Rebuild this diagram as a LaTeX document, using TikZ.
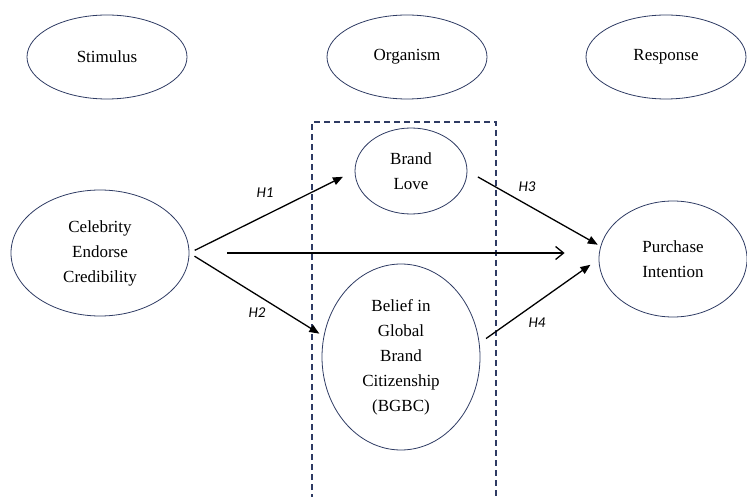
\documentclass[tikz,border=0pt]{standalone}
\usepackage{fontspec}
\setmainfont{Liberation Serif}
\newfontfamily\hypfont{Carlito}
\usetikzlibrary{shapes.geometric, arrows.meta}
\definecolor{navy}{HTML}{2E3B63}

\begin{document}
\begin{tikzpicture}[
    x=1pt, y=-1pt,
    construct/.style={draw=navy, line width=0.8pt, ellipse, inner sep=0pt, align=center,
        font=\fontsize{17}{25}\selectfont},
    path/.style={line width=1.3pt, -{Triangle[length=10pt, width=8pt]}},
    direct/.style={line width=1.3pt, -{Straight Barb[length=8pt, width=13pt]}},
    hyp/.style={font=\hypfont\itshape\fontsize{15}{17}\selectfont}
]
\useasboundingbox (0,0) rectangle (747,497);

% S-O-R headings
\node[construct, minimum width=160pt, minimum height=84pt] (stim) at (107,57) {Stimulus};
\node[construct, minimum width=160pt, minimum height=84pt] (org) at (407,57) {Organism};
\node[construct, minimum width=160pt, minimum height=84pt] (resp) at (666,57) {Response};

% Organism frame (runs past the bottom edge)
\draw[navy, line width=1.1pt, dash pattern=on 6pt off 4pt] (312,510) |- (496,122) -- (496,510);

% Constructs
\node[construct, minimum width=178pt, minimum height=126pt] (ced) at (100,253) {Celebrity\\Endorse\\Credibility};
\node[construct, minimum width=112pt, minimum height=86pt] (love) at (411,171) {Brand\\Love};
\node[construct, minimum width=158pt, minimum height=186pt] (bgbc) at (401,357) {Belief in\\Global\\Brand\\Citizenship\\(BGBC)};
\node[construct, minimum width=148pt, minimum height=116pt] (pi) at (673,259) {Purchase\\Intention};

% Hypothesised paths
\draw[path, shorten <=6pt, shorten >=13pt] (ced.east) -- (love.west);
\draw[path, shorten <=6pt, shorten >=5pt] (ced.east) -- (bgbc.165);
\draw[path, shorten <=12pt, shorten >=3pt] (love.east) -- (pi.170);
\draw[path, shorten <=8pt, shorten >=10pt] (bgbc.10) -- (pi.west);
\draw[direct, shorten <=38pt, shorten >=34pt] (ced.east) -- (ced.east -| pi.west);

% Path labels
\node[hyp] (h1) at (265,193) {H1};
\node[hyp] (h2) at (257,313) {H2};
\node[hyp] (h3) at (527,187) {H3};
\node[hyp] (h4) at (537,323) {H4};

\end{tikzpicture}
\end{document}
